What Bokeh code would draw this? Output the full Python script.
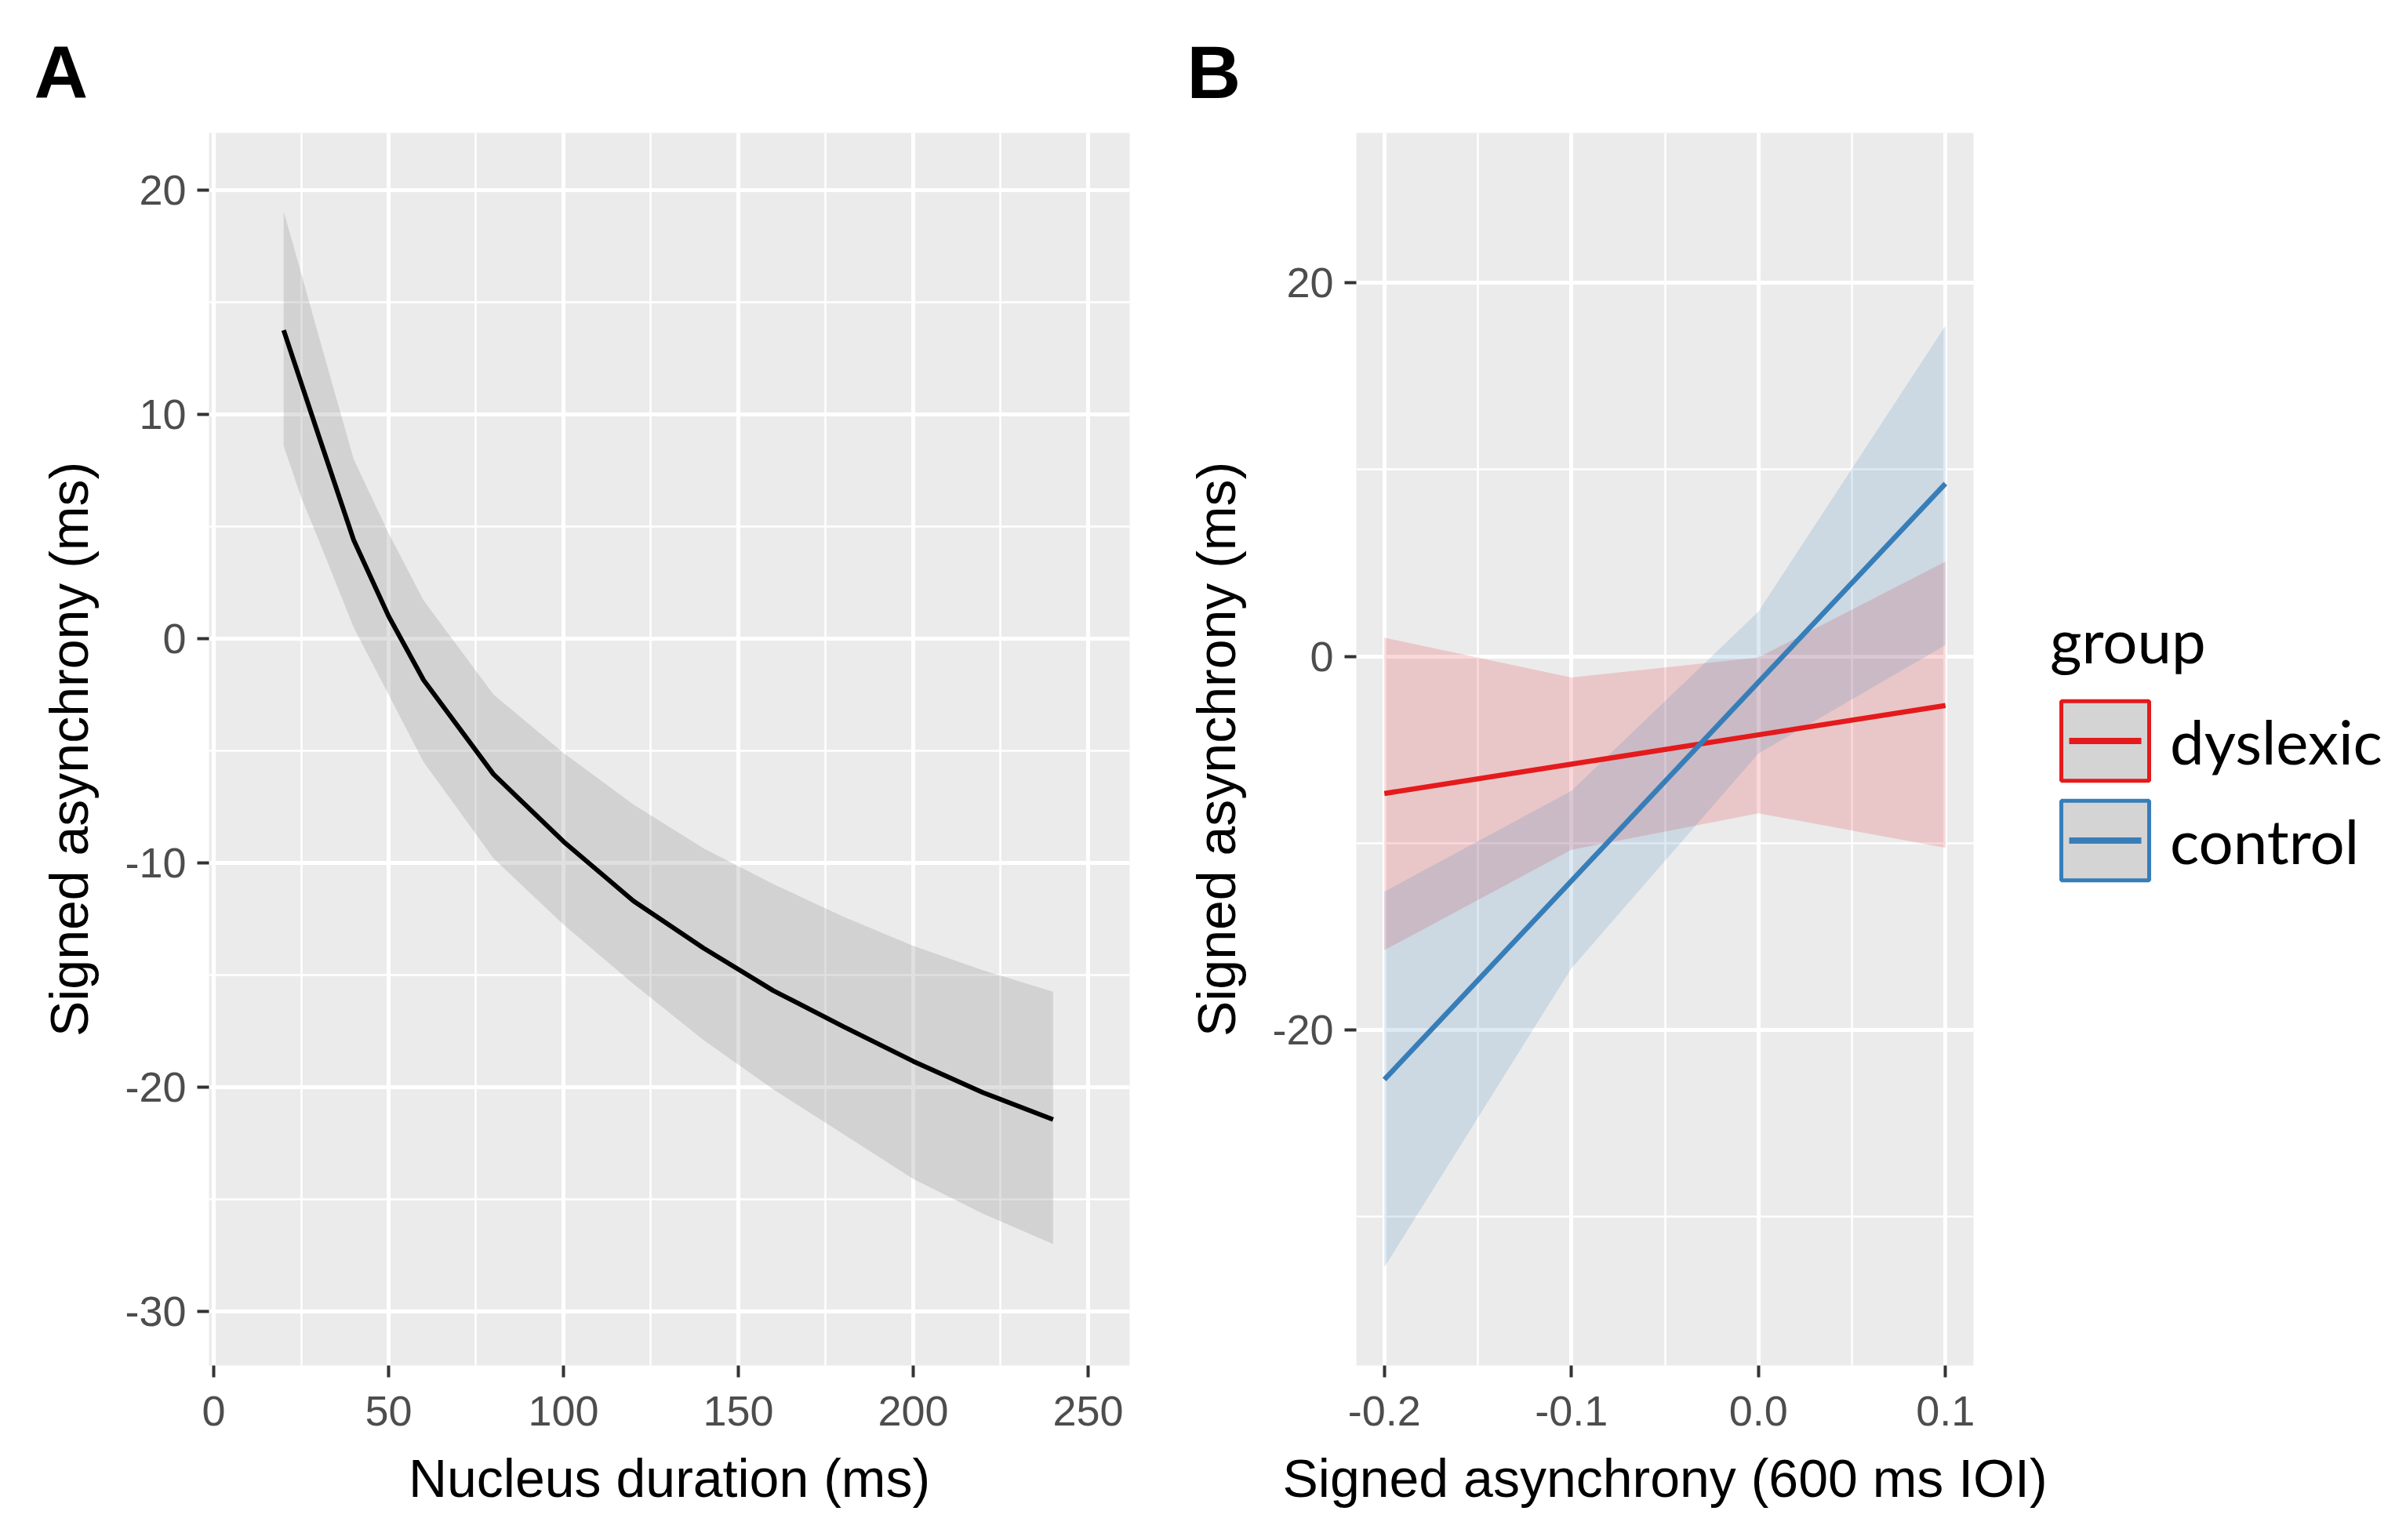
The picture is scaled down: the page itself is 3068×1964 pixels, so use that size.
from bokeh.plotting import figure
from bokeh.layouts import row
from bokeh.models import (Range1d, SingleIntervalTicker, PrintfTickFormatter, Title,
                          Legend, LegendItem, ColumnDataSource)
from bokeh.embed import file_html
from bokeh.resources import INLINE

# ---------------- Panel A data ----------------
dur_ms = [20, 25, 30, 40, 50, 60, 80, 100, 120, 140, 160, 180, 200, 220, 240]
fit_a = [13.75, 11.4, 9.05, 4.4, 1.0, -1.85, -6.05, -9.05, -11.7, -13.8, -15.7, -17.3, -18.85, -20.25, -21.45]
upper_a = [19.05, 16.3, 13.5, 8.0, 4.7, 1.7, -2.5, -5.1, -7.4, -9.35, -10.95, -12.4, -13.7, -14.8, -15.75]
lower_a = [8.6, 6.3, 4.4, 0.5, -2.5, -5.5, -9.8, -12.75, -15.4, -17.9, -20.1, -22.1, -24.1, -25.65, -27.0]

# ---------------- Panel B data ----------------
asyn_600 = [-0.2, -0.1, 0.0, 0.1]
groups = ["dyslexic", "control"]
group_colors = ["#E41A1C", "#377EB8"]
fit_dys = [-7.34, -5.77, -4.20, -2.63]
upper_dys = [1.0, -1.13, -0.06, 5.07]
lower_dys = [-15.73, -10.35, -8.4, -10.25]
fit_ctl = [-22.66, -12.02, -1.38, 9.25]
upper_ctl = [-12.6, -7.2, 2.4, 17.7]
lower_ctl = [-32.7, -16.7, -5.2, 0.6]

FONT = "Liberation Sans"
TOP = 169
FRAME_H = 1572
BOTTOM = 211


def style(p, xlabel, ylabel):
    p.background_fill_color = "#EBEBEB"
    p.border_fill_color = "white"
    p.outline_line_color = None
    p.xaxis.axis_label = xlabel
    p.yaxis.axis_label = ylabel
    for ax in (p.xaxis[0], p.yaxis[0]):
        ax.axis_line_color = None
        ax.major_tick_line_color = "#333333"
        ax.major_tick_line_width = 4
        ax.major_tick_out = 15
        ax.major_tick_in = 0
        ax.minor_tick_line_color = None
        ax.major_label_text_font = FONT
        ax.major_label_text_font_size = "54px"
        ax.major_label_text_color = "#4D4D4D"
        ax.axis_label_text_font = FONT
        ax.axis_label_text_font_size = "68px"
        ax.axis_label_text_font_style = "normal"
        ax.axis_label_text_color = "black"
    p.xaxis.major_label_standoff = 24
    p.xaxis.axis_label_standoff = 26
    p.yaxis.major_label_standoff = 14
    p.yaxis.axis_label_standoff = 30
    for g in (p.xgrid[0], p.ygrid[0]):
        g.grid_line_color = "white"
        g.grid_line_width = 5
        g.minor_grid_line_color = "white"
        g.minor_grid_line_width = 2.5


def panel_title(p, text, offset):
    p.title = Title(text=text, align="left", offset=offset, standoff=50,
                    text_font=FONT, text_font_size="95px", text_font_style="bold",
                    text_color="black")


# ---------------- Panel A ----------------
pA = figure(frame_width=1174, frame_height=FRAME_H,
            min_border_left=266, min_border_right=62,
            min_border_top=TOP, min_border_bottom=BOTTOM,
            x_range=Range1d(-1.35, 261.9), y_range=Range1d(-32.42, 22.55),
            toolbar_location=None, output_backend="svg")
pA.xaxis.ticker = SingleIntervalTicker(interval=50, num_minor_ticks=2)
pA.yaxis.ticker = SingleIntervalTicker(interval=10, num_minor_ticks=2)
pA.xaxis.formatter = PrintfTickFormatter(format="%d")
pA.yaxis.formatter = PrintfTickFormatter(format="%d")
style(pA, "Nucleus duration (ms)", "Signed asynchrony (ms)")
panel_title(pA, "A", -223)
pA.varea(x=dur_ms, y1=lower_a, y2=upper_a, fill_color="#999999", fill_alpha=0.3)
pA.line(x=dur_ms, y=fit_a, line_color="black", line_width=6)

# ---------------- Panel B ----------------
pB = figure(frame_width=787, frame_height=FRAME_H,
            min_border_left=227, min_border_right=530,
            min_border_top=TOP, min_border_bottom=BOTTOM,
            x_range=Range1d(-0.215, 0.115), y_range=Range1d(-37.97, 28.03),
            toolbar_location=None, output_backend="svg")
pB.xaxis.ticker = SingleIntervalTicker(interval=0.1, num_minor_ticks=2)
pB.yaxis.ticker = SingleIntervalTicker(interval=20, num_minor_ticks=2)
pB.xaxis.formatter = PrintfTickFormatter(format="%.1f")
pB.yaxis.formatter = PrintfTickFormatter(format="%d")
style(pB, "Signed asynchrony (600 ms IOI)", "Signed asynchrony (ms)")
panel_title(pB, "B", -216)

ribbons = [(lower_dys, upper_dys), (lower_ctl, upper_ctl)]
fits = [fit_dys, fit_ctl]
for (lo, hi), col in zip(ribbons, group_colors):
    pB.varea(x=asyn_600, y1=lo, y2=hi, fill_color=col, fill_alpha=0.17)

items = []
for name, f, col in zip(groups, fits, group_colors):
    src = ColumnDataSource(data=dict(x=asyn_600, y=f))
    pB.line(x="x", y="y", source=src, line_color=col, line_width=6.5)
    # legend swatches: hidden renderers, drawn only inside the legend
    key_box = pB.rect(x="x", y="y", width=0.01, height=1, source=src,
                      fill_color="#D4D4D4", line_color=col, line_width=5)
    key_line = pB.line(x="x", y="y", source=src, line_color=col, line_width=8,
                       line_dash="0 24 92 100")
    key_box.visible = False
    key_line.visible = False
    items.append(LegendItem(label=name, renderers=[key_box, key_line]))

legend = Legend(items=items, title="group", location=(98, 606),
                padding=0, margin=0, spacing=0,
                glyph_width=140, glyph_height=127, label_standoff=13,
                label_text_font="Lato", label_text_font_size="78px",
                label_text_color="black",
                title_text_font="Lato", title_text_font_size="78px",
                title_text_font_style="normal", title_text_color="black",
                title_standoff=18,
                border_line_color=None, background_fill_alpha=0)
pB.add_layout(legend, "right")

layout = row(pA, pB)
open("out.html", "w").write(file_html(layout, INLINE))
